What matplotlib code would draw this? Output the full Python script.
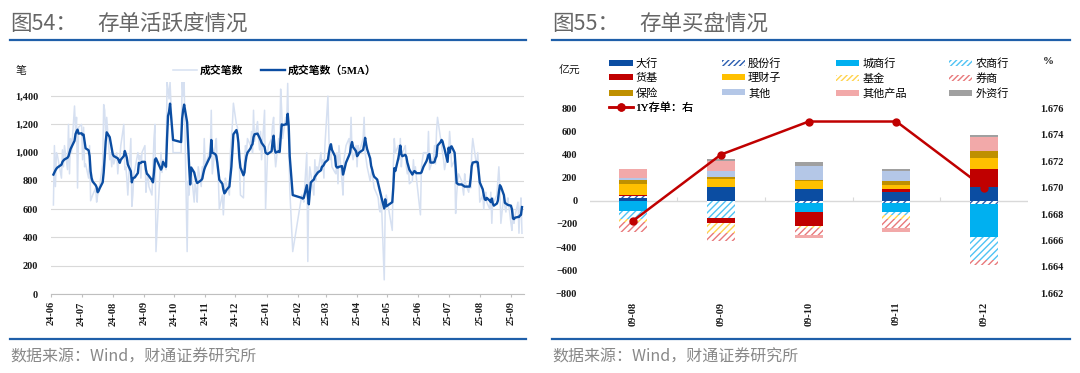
import numpy as np
import pandas as pd
import matplotlib
matplotlib.use("Agg")
import matplotlib.pyplot as plt
import matplotlib.dates as mdates
from matplotlib.ticker import FuncFormatter
from matplotlib.patches import Patch
from matplotlib.lines import Line2D

plt.rcParams['font.family'] = ['Noto Sans CJK SC', 'DejaVu Sans']
plt.rcParams['hatch.linewidth'] = 1.0

# ---------------- left chart data (daily, trading days) ----------------
holidays = ['2024-06-10', '2024-09-16', '2024-09-17', '2024-10-01', '2024-10-02',
            '2024-10-03', '2024-10-04', '2024-10-07', '2025-01-01', '2025-01-28',
            '2025-01-29', '2025-01-30', '2025-01-31', '2025-02-03', '2025-02-04',
            '2025-04-04', '2025-05-01', '2025-05-02', '2025-05-05', '2025-06-02']
start_date, end_date = '2024-06-03', '2025-09-12'

raw_count = (
    [630, 1050, 760, 1000, 980, 820, 1020, 900, 1050, 880, 1200, 850, 1100, 1000, 1330, 1150, 1250, 750, 1180]
    + [1200, 950, 1180, 900, 920, 820, 1050, 660, 680, 700, 750, 650, 700, 720, 770, 920, 1340, 1300, 1100, 1250, 950, 1000, 900]
    + [1000, 920, 1000, 850, 940, 960, 1050, 1200, 880, 900, 820, 700, 1100, 620, 700, 850, 880, 1000, 950, 980, 820, 1000]
    + [1050, 720, 800, 850, 760, 700, 900, 1100, 1200, 300, 1000, 860, 950, 880, 1500, 1450, 1380, 1500, 1000]
    + [1000, 1500, 1400, 1500, 300, 800, 700, 900, 880, 650, 780, 740, 650, 900, 760, 900, 820, 1100]
    + [900, 980, 1000, 1000, 1300, 850, 1050, 1100, 900, 820, 600, 700, 560, 700, 820, 780, 700, 1000, 1100, 1200, 1350]
    + [1200, 1180, 980, 900, 700, 680, 940, 1050, 1000, 1100, 1050, 1150, 1000, 1300, 1080, 1220, 1100, 1020, 1150, 950, 1300, 600]
    + [1000, 1050, 1100, 1200, 1250, 1000, 900, 1100, 1050, 1450, 1300, 1100, 1250, 1200, 1490, 1100, 750, 300]
    + [700, 680, 650, 1000, 230, 780, 900, 850, 700, 950, 800, 900, 850, 1000, 880, 950, 820, 1050]
    + [1400, 1100, 950, 1000, 900, 860, 850, 1000, 780, 1050, 800, 700, 950, 1000, 1050, 1100, 1000, 1250, 1000, 950, 1050]
    + [900, 1050, 1000, 1100, 1250, 1000, 950, 900, 800, 850, 900, 800, 750, 700, 680, 600, 580, 700, 100, 620, 700]
    + [450, 900, 1100, 1000, 1050, 950, 1100, 900, 1000, 1050, 900, 850, 920, 780, 800, 950, 850, 900, 820]
    + [560, 900, 950, 1000, 1000, 950, 1150, 880, 900, 960, 1050, 920, 1150, 1250, 1100, 1050, 1000, 950, 880, 1000]
    + [1000, 1150, 1050, 900, 950, 570, 700, 800, 850, 800, 750, 700, 850, 780, 720, 800, 750, 1000, 1100, 950, 900, 1000, 870]
    + [650, 700, 600, 700, 720, 650, 600, 720, 500, 680, 650, 700, 800, 900, 750, 500, 700, 620, 580, 650, 680]
    + [500, 450, 600, 500, 550, 650, 430, 600, 680, 430]
)

ma5_count = (
    [845, 860, 875, 887, 895, 915, 935, 945, 952, 964, 975, 1000, 1025, 1040, 1084, 1132, 1150, 1163, 1135]
    + [1137, 1125, 1128, 1080, 1031, 1017, 976, 868, 820, 796, 770, 755, 720, 730, 748, 790, 860, 964, 1080, 1144, 1110, 1070, 1030]
    + [990, 976, 964, 960, 945, 928, 950, 976, 1012, 990, 964, 916, 868, 790, 820, 822, 825, 856, 928, 925, 928, 935]
    + [935, 880, 850, 844, 835, 805, 790, 860, 950, 960, 880, 895, 935, 900, 1100, 1260, 1290, 1347, 1090]
    + [1075, 1240, 1300, 1340, 1215, 1050, 900, 775, 895, 860, 830, 800, 785, 790, 805, 815, 850, 880]
    + [900, 945, 960, 975, 1090, 1000, 990, 975, 930, 870, 808, 780, 740, 712, 720, 735, 760, 830, 900, 1020, 1130]
    + [1160, 1130, 1070, 960, 895, 840, 860, 930, 975, 1000, 1030, 1050, 1060, 1110, 1130, 1135, 1120, 1105, 1090, 1070, 1040, 1000]
    + [990, 995, 1010, 1080, 1120, 1025, 1000, 1010, 1005, 1100, 1200, 1195, 1200, 1200, 1275, 1190, 975, 700]
    + [680, 675, 680, 770, 700, 635, 720, 790, 810, 830, 840, 850, 860, 875, 900, 905, 915, 930]
    + [950, 1000, 1040, 1060, 1020, 975, 905, 895, 895, 900, 905, 845, 870, 900, 930, 980, 1000, 1050, 1075, 1040, 1010]
    + [975, 985, 1000, 1020, 1060, 1105, 1060, 1025, 960, 905, 880, 850, 830, 810, 780, 750, 720, 690, 605, 670, 620]
    + [650, 750, 890, 870, 960, 1000, 1050, 990, 975, 985, 970, 930, 905, 880, 845, 860, 870, 865, 855]
    + [855, 860, 880, 900, 940, 960, 985, 990, 930, 930, 935, 960, 975, 1050, 1075, 1090, 1080, 1050, 1025, 935]
    + [1035, 1000, 1040, 1045, 1000, 900, 785, 780, 775, 775, 770, 765, 760, 760, 760, 760, 820, 905, 930, 935, 935, 930, 860]
    + [790, 740, 700, 670, 665, 680, 660, 650, 675, 640, 625, 640, 660, 720, 770, 760, 700, 645, 640, 635, 630]
    + [625, 600, 535, 530, 540, 545, 545, 555, 560, 615]
)

left_legend = ['成交笔数', '成交笔数（5MA）']

# ---------------- right chart data ----------------
categories = ['09-08', '09-09', '09-10', '09-11', '09-12']
big_banks = [20, 118, 103, 72, 118]          # 大行
joint_stock = [18, -5, -15, -20, -25]        # 股份行
city_banks = [-90, 0, -80, -75, -290]        # 城商行
rural_banks = [-68, -145, 0, -32, -200]      # 农商行
money_funds = [12, -45, -120, 30, 155]       # 货基
wealth_mgmt = [95, 68, 65, 32, 93]           # 理财子
funds = [-28, -85, -20, -28, 0]              # 基金
brokers = [-85, -70, -60, -80, -40]          # 券商
insurance = [35, 22, 15, 38, 65]             # 保险
others = [18, 50, 115, 85, 0]                # 其他
other_products = [75, 90, -25, -33, 120]     # 其他产品
foreign_banks = [3, 15, 35, 20, 14]          # 外资行
cd_1y_rate = [1.6675, 1.6725, 1.675, 1.675, 1.670]   # 1Y存单（右轴, %）

series_names = ['大行', '股份行', '城商行', '农商行', '货基', '理财子', '基金', '券商',
                '保险', '其他', '其他产品', '外资行']
line_name = '1Y存单：右'

# ---------------- layout ----------------
W, H = 1080, 373
fig = plt.figure(figsize=(W / 100, H / 100), dpi=100)


def fx(px):
    return px / W


def fy(py):
    return 1 - py / H


SERIF = ['Liberation Serif', 'Noto Sans CJK SC']
BLUE_RULE = '#1F5FA9'
TITLE_C = '#666666'
SRC_C = '#888888'
TXT_C = '#1A1A1A'

for x0, x1, num, name in [(10, 526, '图54：', '存单活跃度情况'), (552, 1070, '图55：', '存单买盘情况')]:
    fig.text(fx(x0), fy(23.5), num, fontsize=15.5, color=TITLE_C, va='center', ha='left')
    fig.text(fx(x0 + 87), fy(23.5), name, fontsize=15.5, color=TITLE_C, va='center', ha='left')
    fig.add_artist(Line2D([fx(x0), fx(x1)], [fy(40), fy(40)], color=BLUE_RULE, lw=1.6,
                          transform=fig.transFigure))
    fig.add_artist(Line2D([fx(x0), fx(x1)], [fy(339), fy(339)], color=BLUE_RULE, lw=1.6,
                          transform=fig.transFigure))
    fig.text(fx(x0), fy(357), '数据来源：Wind，财通证券研究所', fontsize=11.5, color=SRC_C,
             va='center', ha='left')

# ---------------- left chart ----------------
dates = pd.bdate_range(start_date, end_date).difference(pd.to_datetime(holidays))
n = min(len(dates), len(raw_count), len(ma5_count))
dates = dates[:n]

L_BOTTOM, L_TOP = 294.0, 82.0
ax1 = fig.add_axes([fx(51.4), fy(L_BOTTOM), fx(524) - fx(51.4), fy(L_TOP) - fy(L_BOTTOM)])
ax1.plot(dates, raw_count[:n], color='#D6E0F1', lw=1.1, label=left_legend[0], zorder=2)
ax1.plot(dates, ma5_count[:n], color='#0B4DA2', lw=1.7, label=left_legend[1], zorder=3)
ax1.set_xlim(pd.Timestamp('2024-06-01'), pd.Timestamp('2025-09-14'))
ax1.set_ylim(0, 1500)
ax1.set_yticks(np.arange(0, 1401, 200))
ax1.yaxis.set_major_formatter(FuncFormatter(lambda v, p: f'{int(v):,}'))
ax1.xaxis.set_major_locator(mdates.MonthLocator())
ax1.xaxis.set_major_formatter(mdates.DateFormatter('%y-%m'))
ax1.grid(axis='y', color='#D9D9D9', lw=0.8)
ax1.set_axisbelow(True)
for s in ['top', 'right', 'left']:
    ax1.spines[s].set_visible(False)
ax1.spines['bottom'].set_color('#BFBFBF')
ax1.spines['bottom'].set_linewidth(0.8)
ax1.tick_params(axis='y', length=0, pad=9.5)
ax1.tick_params(axis='x', length=2.5, width=0.8, color='#BFBFBF', pad=2.8, rotation=90)
for lab in ax1.get_xticklabels() + ax1.get_yticklabels():
    lab.set_fontfamily(SERIF)
    lab.set_fontweight('bold')
    lab.set_fontsize(7.5)
    lab.set_color(TXT_C)

fig.text(fx(15.4), fy(70.5), '笔', fontsize=7.8, color=TXT_C, va='center', ha='left')
ax1.legend(loc='center left', bbox_to_anchor=(fx(173), fy(70.5)), bbox_transform=fig.transFigure,
           ncol=2, frameon=False, borderpad=0, borderaxespad=0, handlelength=2.2,
           handletextpad=0.3, columnspacing=1.6,
           prop=dict(family=SERIF, weight='bold', size=7.8))

# ---------------- right chart ----------------
ax2 = fig.add_axes([fx(589.5), fy(293.3), fx(1027.9) - fx(589.5), fy(108.3) - fy(293.3)])
xpos = np.arange(len(categories))
series_vals = [big_banks, joint_stock, city_banks, rural_banks, money_funds, wealth_mgmt,
               funds, brokers, insurance, others, other_products, foreign_banks]
styles = [
    dict(color='#0B4DA2', hatch=None),
    dict(color='#2A5DB0', hatch='/////'),
    dict(color='#00B0F0', hatch=None),
    dict(color='#4FC3F4', hatch='/////'),
    dict(color='#C00000', hatch=None),
    dict(color='#FFC000', hatch=None),
    dict(color='#FFD34D', hatch='/////'),
    dict(color='#E8797B', hatch='/////'),
    dict(color='#BF9000', hatch=None),
    dict(color='#B4C7E7', hatch=None),
    dict(color='#F2A9A9', hatch=None),
    dict(color='#A0A0A0', hatch=None),
]
pos_cum = np.zeros(len(categories))
neg_cum = np.zeros(len(categories))
handles = []
for name, vals, st in zip(series_names, series_vals, styles):
    v = np.array(vals, dtype=float)
    bottoms = np.where(v >= 0, pos_cum, neg_cum)
    if st['hatch']:
        ax2.bar(xpos, v, bottom=bottoms, width=0.32, facecolor='white', edgecolor=st['color'],
                hatch=st['hatch'], linewidth=0, zorder=2)
        handles.append(Patch(facecolor='white', edgecolor=st['color'], hatch='//////', linewidth=0))
    else:
        ax2.bar(xpos, v, bottom=bottoms, width=0.32, color=st['color'], linewidth=0, zorder=2)
        handles.append(Patch(facecolor=st['color'], linewidth=0))
    pos_cum = pos_cum + np.where(v > 0, v, 0)
    neg_cum = neg_cum + np.where(v < 0, v, 0)

ax2.set_xlim(-0.5, len(categories) - 0.5)
ax2.set_ylim(-800, 800)
ax2.set_yticks(np.arange(-800, 801, 200))
ax2.set_xticks(xpos)
ax2.set_xticklabels(categories)
ax2.axhline(0, color='#D9D9D9', lw=1.0, zorder=1)
for s in ax2.spines.values():
    s.set_visible(False)
ax2.tick_params(axis='y', length=0, pad=8.8)
ax2.tick_params(axis='x', length=0, pad=6, rotation=90)
for lab in ax2.get_xticklabels() + ax2.get_yticklabels():
    lab.set_fontfamily(SERIF)
    lab.set_fontweight('bold')
    lab.set_fontsize(7.5)
    lab.set_color(TXT_C)

sec = ax2.secondary_xaxis(0.5)
sec.set_xticks(xpos[:-1] + 0.5)
sec.set_xticklabels([])
sec.tick_params(length=3, width=0.8, color='#D9D9D9', direction='out')
for s in sec.spines.values():
    s.set_visible(False)

ax3 = ax2.twinx()
ax3.plot(xpos, cd_1y_rate, color='#C00000', lw=1.8, marker='o', ms=5, zorder=5)
ax3.set_ylim(1.662, 1.676)
ax3.set_yticks(np.arange(1.662, 1.6765, 0.002))
ax3.yaxis.set_major_formatter(FuncFormatter(lambda v, p: f'{v:.3f}'))
for s in ax3.spines.values():
    s.set_visible(False)
ax3.tick_params(axis='y', length=0, pad=8.8)
for lab in ax3.get_yticklabels():
    lab.set_fontfamily(SERIF)
    lab.set_fontweight('bold')
    lab.set_fontsize(7.5)
    lab.set_color(TXT_C)

fig.text(fx(558.7), fy(70), '亿元', fontsize=7.8, color=TXT_C, va='center', ha='left')
fig.text(fx(1048.4), fy(62), '%', fontsize=7.8, color=TXT_C, va='center', ha='center',
         family=SERIF, weight='bold')

# legend: 4 equal-width columns x 3 rows + line entry
col_x = [609.4, 722.0, 836.0, 949.1]
row_y = [63.3, 78.3, 93.3, 107.7]
leg_handles = handles + [Line2D([], [], color='#C00000', lw=1.8, marker='o', ms=5)]
leg_labels = series_names + [line_name]
for i, (h, l) in enumerate(zip(leg_handles, leg_labels)):
    r, c = divmod(i, 4)
    lg = ax3.legend([h], [l], loc='center left', bbox_to_anchor=(fx(col_x[c]), fy(row_y[r])),
                    bbox_transform=fig.transFigure, frameon=False, borderpad=0, borderaxespad=0,
                    handlelength=2.1, handleheight=0.45, handletextpad=0.25,
                    prop=dict(family=SERIF, size=8))
    ax3.add_artist(lg)

fig.savefig('out.png', dpi=100)
